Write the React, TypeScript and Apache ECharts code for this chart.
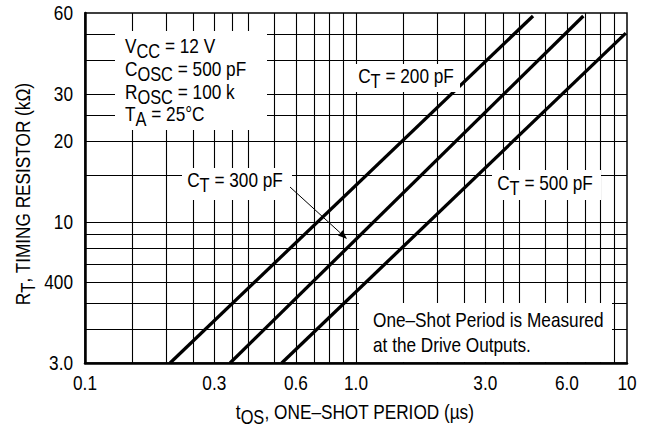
import React, { useEffect, useRef } from 'react';
import * as echarts from 'echarts';

const xGridValues = [0.15, 0.2, 0.25, 0.3, 0.35, 0.4, 0.5, 0.6, 0.7, 0.8, 0.9, 1, 1.5, 2, 2.5, 3, 3.5, 4, 5, 6, 7, 8, 9];
const yGridValues = [4, 5, 6, 7, 8, 9, 10, 15, 20, 25, 30, 40, 50];
const xTickValues = [0.1, 0.3, 0.6, 1, 3, 6, 10];
const xTickLabels = ['0.1', '0.3', '0.6', '1.0', '3.0', '6.0', '10'];
const yTickValues = [3, 6, 10, 20, 30, 60];
const yTickLabels = ['3.0', '400', '10', '20', '30', '60'];

const ct200pF = [[0.206, 3], [4.5, 58.5]];
const ct300pF = [[0.343, 3], [6.9, 58.5]];
const ct500pF = [[0.532, 3], [9.9, 50.5]];

const FONT = '"Liberation Sans", Arial, Helvetica, sans-serif';
const NARROW = 0.82;

const rich = (size: number) => ({
  n: { fontSize: size, fontFamily: FONT, fill: '#000' },
  s: { fontSize: size - 1, fontFamily: FONT, fill: '#000', padding: [10, 0, 0, 0] },
});

function txt(x: number, y: number, text: string, align: string, size: number, extra: any = {}) {
  return {
    type: 'text',
    x,
    y,
    z: 101,
    silent: true,
    scaleX: NARROW,
    ...extra,
    style: {
      text,
      rich: rich(size),
      fontSize: size,
      fontFamily: FONT,
      fill: '#000',
      align,
      verticalAlign: 'middle',
      textAlign: align,
      textVerticalAlign: 'middle',
    },
  };
}

function whiteRect(x: number, y: number, w: number, h: number) {
  return { type: 'rect', z: 100, silent: true, shape: { x, y, width: w, height: h }, style: { fill: '#fff' } };
}

export default function App() {
  const ref = useRef<HTMLDivElement>(null);
  useEffect(() => {
    document.body.style.margin = '0';
    const chart = echarts.init(ref.current!, null, { renderer: 'svg' });
    const heavy = (data: number[][]) => ({
      type: 'line',
      data,
      symbol: 'none',
      showSymbol: false,
      silent: true,
      z: 3,
      lineStyle: { color: '#000', width: 3.3, cap: 'butt' },
    });
    const axisCommon = {
      type: 'log',
      logBase: 10,
      axisLine: { show: true, onZero: false, lineStyle: { color: '#000', width: 2.5 } },
      axisTick: { show: false },
      axisLabel: { show: false },
      splitLine: { show: false },
      minorSplitLine: { show: false },
    };
    chart.setOption({
      animation: false,
      backgroundColor: '#fff',
      grid: { left: 85, right: 22, top: 13, bottom: 67, show: true, borderColor: '#000', borderWidth: 1.5, backgroundColor: 'transparent' },
      xAxis: { ...axisCommon, min: 0.1, max: 10 },
      yAxis: { ...axisCommon, min: 3, max: 60 },
      series: [
        {
          type: 'line',
          data: [[0.1, 3]],
          symbol: 'none',
          showSymbol: false,
          silent: true,
          z: 1,
          lineStyle: { width: 0 },
          markLine: {
            silent: true,
            symbol: ['none', 'none'],
            label: { show: false },
            lineStyle: { color: '#000', width: 1.1, type: 'solid', opacity: 1 },
            data: [
              ...xGridValues.map((v) => ({ xAxis: v })),
              ...yGridValues.map((v) => ({ yAxis: v })),
            ],
          },
        },
        heavy(ct200pF),
        heavy(ct300pF),
        heavy(ct500pF),
      ],
    });

    const graphics: any[] = [];
    xTickValues.forEach((v, i) => {
      const px = chart.convertToPixel({ xAxisIndex: 0 }, v) as number;
      graphics.push(txt(px, 383, xTickLabels[i], 'center', 21));
    });
    yTickValues.forEach((v, i) => {
      const py = chart.convertToPixel({ yAxisIndex: 0 }, v) as number;
      graphics.push(txt(73, py, yTickLabels[i], 'right', 21));
    });

    graphics.push(whiteRect(115, 31, 152, 99));
    graphics.push(whiteRect(353, 64, 107, 28));
    graphics.push(whiteRect(182, 168, 110, 32));
    graphics.push(whiteRect(492, 170, 109, 30));
    graphics.push(whiteRect(359, 303, 253, 59));

    graphics.push(txt(125, 46, '{n|V}{s|CC}{n| = 12 V}', 'left', 21));
    graphics.push(txt(125, 69, '{n|C}{s|OSC}{n| = 500 pF}', 'left', 21));
    graphics.push(txt(125, 92, '{n|R}{s|OSC}{n| = 100 k}', 'left', 21));
    graphics.push(txt(125, 114, '{n|T}{s|A}{n| = 25°C}', 'left', 21));

    graphics.push(txt(406, 76, '{n|C}{s|T}{n| = 200 pF}', 'center', 21));
    graphics.push(txt(235, 180, '{n|C}{s|T}{n| = 300 pF}', 'center', 21));
    graphics.push(txt(545, 183, '{n|C}{s|T}{n| = 500 pF}', 'center', 21));

    graphics.push(txt(373, 320, '{n|One–Shot Period is Measured}', 'left', 21));
    graphics.push(txt(373, 345, '{n|at the Drive Outputs.}', 'left', 21));

    graphics.push(txt(355, 412, '{n|t}{s|OS}{n|, ONE–SHOT PERIOD (µs)}', 'center', 21));
    graphics.push(txt(23, 194, '{n|R}{s|T}{n|, TIMING RESISTOR (kΩ)}', 'center', 21, { rotation: Math.PI / 2 }));

    // arrow from CT = 300 pF label to its curve
    const tip = [347, 239];
    const start = [290, 187];
    const dx = tip[0] - start[0];
    const dy = tip[1] - start[1];
    const len = Math.hypot(dx, dy);
    const ux = dx / len, uy = dy / len;
    const bx = tip[0] - 9 * ux, by = tip[1] - 9 * uy;
    graphics.push({ type: 'line', z: 101, silent: true, shape: { x1: start[0], y1: start[1], x2: bx, y2: by }, style: { stroke: '#000', lineWidth: 1 } });
    graphics.push({
      type: 'polygon', z: 101, silent: true,
      shape: { points: [tip, [bx - 3.5 * uy, by + 3.5 * ux], [bx + 3.5 * uy, by - 3.5 * ux]] },
      style: { fill: '#000' },
    });

    chart.setOption({ graphic: graphics });
    return () => chart.dispose();
  }, []);
  return <div ref={ref} style={{ width: 649, height: 430 }} />;
}
